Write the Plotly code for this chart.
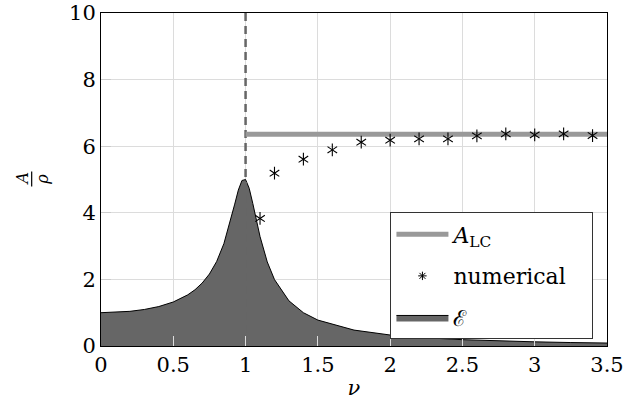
import plotly.graph_objects as go

# Envelope curve E(nu)
nu_env = [0, 0.1, 0.2, 0.3, 0.4, 0.5, 0.6, 0.65, 0.7, 0.75, 0.8, 0.85, 0.9, 0.925,
          0.95, 0.975, 1.0, 1.025, 1.05, 1.075, 1.1, 1.15, 1.2, 1.3, 1.4, 1.5,
          1.75, 2.0, 2.25, 2.5, 2.75, 3.0, 3.25, 3.5]
E_env = [1.0, 1.01, 1.041, 1.097, 1.185, 1.322, 1.536, 1.689, 1.891, 2.162, 2.538,
         3.073, 3.821, 4.261, 4.683, 4.971, 5.0, 4.736, 4.279, 3.768, 3.288, 2.525,
         1.995, 1.356, 1.0, 0.778, 0.478, 0.330, 0.245, 0.190, 0.152, 0.125, 0.104, 0.089]

# numerical results
nu_num = [1.1, 1.2, 1.4, 1.6, 1.8, 2.0, 2.2, 2.4, 2.6, 2.8, 3.0, 3.2, 3.4]
A_num = [3.83, 5.19, 5.61, 5.89, 6.12, 6.18, 6.22, 6.22, 6.31, 6.37, 6.34, 6.37, 6.32]

# limit cycle amplitude
nu_lc = [1.0, 3.5]
A_lc = [6.36, 6.36]

# resonance marker
nu_res = 1.0
y_range = [0, 10]

x_ticks = [0, 0.5, 1, 1.5, 2, 2.5, 3, 3.5]
x_labels = ["0", "0.5", "1", "1.5", "2", "2.5", "3", "3.5"]
y_ticks = [0, 2, 4, 6, 8, 10]
y_labels = ["0", "2", "4", "6", "8", "10"]

FONT = "DejaVu Serif, serif"

fig = go.Figure()

fig.add_trace(go.Scatter(
    x=nu_env, y=E_env, mode="lines", fill="tozeroy",
    fillcolor="#666666", line=dict(color="black", width=1),
    name="ℰ", legendrank=3, legendgroup="e"))

fig.add_trace(go.Scatter(
    x=[nu_res, nu_res], y=y_range, mode="lines",
    line=dict(color="#666666", width=2.5, dash="8px,5px"),
    showlegend=False, hoverinfo="skip"))

fig.add_trace(go.Scatter(
    x=nu_lc, y=A_lc, mode="lines",
    line=dict(color="#999999", width=5),
    name="<i>A</i><sub>LC</sub>", legendrank=1, legendgroup="a"))

# six-armed asterisks made from two Y markers
for sym in ["y-up-open", "y-down-open"]:
    fig.add_trace(go.Scatter(
        x=nu_num, y=A_num, mode="markers",
        marker=dict(symbol=sym, size=8, color="black",
                    line=dict(color="black", width=1.1)),
        showlegend=False))
fig.add_trace(go.Scatter(
    x=[None], y=[None], mode="markers",
    marker=dict(symbol="asterisk-open", size=7, color="black",
                line=dict(color="black", width=1)),
    name="numerical&nbsp;&nbsp;&nbsp;", legendrank=2, legendgroup="n"))

fig.update_layout(
    width=642, height=413,
    margin=dict(l=101, r=35, t=13, b=67),
    paper_bgcolor="white", plot_bgcolor="white",
    font=dict(family=FONT, size=21, color="black"),
    showlegend=True,
    legend=dict(
        x=0.572, y=0.401, xanchor="left", yanchor="top",
        bgcolor="white", bordercolor="#333333", borderwidth=1,
        font=dict(family=FONT, size=22),
        itemwidth=52, tracegroupgap=10,
    ),
    xaxis=dict(
        range=[0, 3.5], tickvals=x_ticks, ticktext=x_labels,
        showgrid=True, gridcolor="#dcdcdc", gridwidth=1,
        showline=True, linecolor="black", linewidth=1, mirror=True,
        ticks="inside", ticklen=10, tickcolor="#dcdcdc",
        zeroline=False, automargin=False,
        title=dict(text="<i>ν</i>", standoff=4, font=dict(size=21)),
    ),
    yaxis=dict(
        range=y_range, tickvals=y_ticks, ticktext=y_labels,
        showgrid=True, gridcolor="#dcdcdc", gridwidth=1,
        showline=True, linecolor="black", linewidth=1, mirror=True,
        ticks="inside", ticklen=10, tickcolor="#cccccc",
        zeroline=False, automargin=False,
    ),
    annotations=[
        dict(x=-0.157, y=0.5015, xref="paper", yref="paper",
             xanchor="center", yanchor="middle",
             text="<i>A</i>", showarrow=False, textangle=-90,
             font=dict(family=FONT, size=16)),
        dict(x=-0.117, y=0.5015, xref="paper", yref="paper",
             xanchor="center", yanchor="middle",
             text="<i>ρ</i>", showarrow=False, textangle=-90,
             font=dict(family=FONT, size=16)),
    ],
    shapes=[dict(
        type="line", xref="paper", yref="paper",
        x0=-0.137, x1=-0.137, y0=0.479, y1=0.524,
        line=dict(color="black", width=1.2),
    )],
)

fig.write_html("out.html",
               config={"displayModeBar": False},
               post_script="document.body.style.margin='0';document.body.style.padding='0';")
